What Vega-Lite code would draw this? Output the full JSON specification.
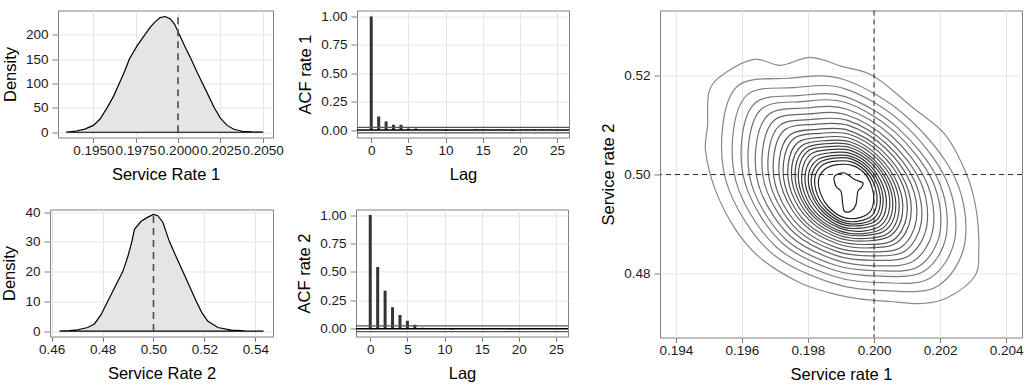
{
"$schema": "https://vega.github.io/schema/vega-lite/v6.json",
"background": "white",
"padding": {"left": 0, "top": 8.5, "right": 0, "bottom": 0},
"datasets": {
"dens1": [
{"rate":0.19343,"density":0.5},{"rate":0.194,"density":2.5},{"rate":0.1945,"density":6.5},{"rate":0.195,"density":14},{"rate":0.1954,"density":27},{"rate":0.19581,"density":50},{"rate":0.1962,"density":74},{"rate":0.19653,"density":100},{"rate":0.19685,"density":125},{"rate":0.19713,"density":150},{"rate":0.1976,"density":178},{"rate":0.19805,"density":200},{"rate":0.19835,"density":215},{"rate":0.19865,"density":226},{"rate":0.19895,"density":235},{"rate":0.19925,"density":237},{"rate":0.19955,"density":232},{"rate":0.1998,"density":221},{"rate":0.20008,"density":200},{"rate":0.2004,"density":176},{"rate":0.20077,"density":150},{"rate":0.2011,"density":125},{"rate":0.20145,"density":100},{"rate":0.2018,"density":75},{"rate":0.20214,"density":50},{"rate":0.2025,"density":29},{"rate":0.2029,"density":14},{"rate":0.2033,"density":6},{"rate":0.2038,"density":2},{"rate":0.2044,"density":0.6},{"rate":0.205,"density":0.2}
],
"dens2": [
{"rate":0.46302,"density":0},{"rate":0.467,"density":0.15},{"rate":0.47023,"density":0.45},{"rate":0.47416,"density":1.2},{"rate":0.47679,"density":2.4},{"rate":0.4794,"density":5.5},{"rate":0.48203,"density":10},{"rate":0.48466,"density":14.5},{"rate":0.48793,"density":20},{"rate":0.4899,"density":25},{"rate":0.49148,"density":30},{"rate":0.49252,"density":34.2},{"rate":0.49515,"density":36.9},{"rate":0.49777,"density":38.3},{"rate":0.5,"density":39.2},{"rate":0.5017,"density":38.8},{"rate":0.50367,"density":36.6},{"rate":0.5063,"density":30},{"rate":0.5089,"density":25},{"rate":0.51154,"density":20},{"rate":0.5142,"density":15},{"rate":0.51679,"density":10},{"rate":0.519,"density":6.2},{"rate":0.52138,"density":3.3},{"rate":0.52531,"density":1.2},{"rate":0.53056,"density":0.3},{"rate":0.536,"density":0.05},{"rate":0.54328,"density":0}
],
"acf1": [
{"lag":0,"acf":1},{"lag":1,"acf":0.12},{"lag":2,"acf":0.076},{"lag":3,"acf":0.047},{"lag":4,"acf":0.047},{"lag":5,"acf":0.015},{"lag":6,"acf":0.015},{"lag":7,"acf":0.003},{"lag":8,"acf":0.002},{"lag":9,"acf":0.004},{"lag":10,"acf":-0.008},{"lag":11,"acf":0.001},{"lag":12,"acf":0.002},{"lag":13,"acf":0.001},{"lag":14,"acf":0.007},{"lag":15,"acf":0.006},{"lag":16,"acf":0.001},{"lag":17,"acf":0.003},{"lag":18,"acf":0.0},{"lag":19,"acf":-0.008},{"lag":20,"acf":0.001},{"lag":21,"acf":0.005},{"lag":22,"acf":0.006},{"lag":23,"acf":0.005},{"lag":24,"acf":0.006},{"lag":25,"acf":0.001}
],
"acf2": [
{"lag":0,"acf":1},{"lag":1,"acf":0.543},{"lag":2,"acf":0.334},{"lag":3,"acf":0.19},{"lag":4,"acf":0.12},{"lag":5,"acf":0.07},{"lag":6,"acf":0.035},{"lag":7,"acf":0.008},{"lag":8,"acf":0.002},{"lag":9,"acf":0.0},{"lag":10,"acf":0.001},{"lag":11,"acf":-0.006},{"lag":12,"acf":0.001},{"lag":13,"acf":0.002},{"lag":14,"acf":0.004},{"lag":15,"acf":0.005},{"lag":16,"acf":0.006},{"lag":17,"acf":0.002},{"lag":18,"acf":0.001},{"lag":19,"acf":-0.004},{"lag":20,"acf":-0.005},{"lag":21,"acf":0.001},{"lag":22,"acf":0.002},{"lag":23,"acf":0.001},{"lag":24,"acf":0.006},{"lag":25,"acf":0.005}
],
"contours": [
{"level":1,"i":0,"rate1":0.20223,"rate2":0.4752},{"level":1,"i":1,"rate1":0.20305,"rate2":0.4795},{"level":1,"i":2,"rate1":0.20317,"rate2":0.4849},{"level":1,"i":3,"rate1":0.20311,"rate2":0.4922},{"level":1,"i":4,"rate1":0.20284,"rate2":0.4994},{"level":1,"i":5,"rate1":0.20217,"rate2":0.5079},{"level":1,"i":6,"rate1":0.20117,"rate2":0.5135},{"level":1,"i":7,"rate1":0.19999,"rate2":0.5198},{"level":1,"i":8,"rate1":0.19902,"rate2":0.5218},{"level":1,"i":9,"rate1":0.19808,"rate2":0.5236},{"level":1,"i":10,"rate1":0.19717,"rate2":0.522},{"level":1,"i":11,"rate1":0.19638,"rate2":0.5232},{"level":1,"i":12,"rate1":0.19548,"rate2":0.5204},{"level":1,"i":13,"rate1":0.19501,"rate2":0.5168},{"level":1,"i":14,"rate1":0.19496,"rate2":0.5099},{"level":1,"i":15,"rate1":0.1949,"rate2":0.5047},{"level":1,"i":16,"rate1":0.1952,"rate2":0.4968},{"level":1,"i":17,"rate1":0.19581,"rate2":0.4889},{"level":1,"i":18,"rate1":0.19657,"rate2":0.4831},{"level":1,"i":19,"rate1":0.19769,"rate2":0.4784},{"level":1,"i":20,"rate1":0.19863,"rate2":0.4762},{"level":1,"i":21,"rate1":0.19951,"rate2":0.475},{"level":1,"i":22,"rate1":0.20048,"rate2":0.4744},{"level":1,"i":23,"rate1":0.20148,"rate2":0.474},
{"level":2,"i":0,"rate1":0.20192,"rate2":0.4775},{"level":2,"i":1,"rate1":0.20275,"rate2":0.4862},{"level":2,"i":2,"rate1":0.20246,"rate2":0.4992},{"level":2,"i":3,"rate1":0.20098,"rate2":0.5117},{"level":2,"i":4,"rate1":0.19906,"rate2":0.5192},{"level":2,"i":5,"rate1":0.1974,"rate2":0.5194},{"level":2,"i":6,"rate1":0.19588,"rate2":0.5179},{"level":2,"i":7,"rate1":0.1954,"rate2":0.5085},{"level":2,"i":8,"rate1":0.19562,"rate2":0.4967},{"level":2,"i":9,"rate1":0.19684,"rate2":0.4845},{"level":2,"i":10,"rate1":0.19869,"rate2":0.4782},{"level":2,"i":11,"rate1":0.20035,"rate2":0.4766},
{"level":3,"i":0,"rate1":0.20169,"rate2":0.4791},{"level":3,"i":1,"rate1":0.20245,"rate2":0.4871},{"level":3,"i":2,"rate1":0.20218,"rate2":0.499},{"level":3,"i":3,"rate1":0.20084,"rate2":0.5105},{"level":3,"i":4,"rate1":0.1991,"rate2":0.5173},{"level":3,"i":5,"rate1":0.19756,"rate2":0.5175},{"level":3,"i":6,"rate1":0.19617,"rate2":0.5161},{"level":3,"i":7,"rate1":0.19572,"rate2":0.5074},{"level":3,"i":8,"rate1":0.19592,"rate2":0.4966},{"level":3,"i":9,"rate1":0.19704,"rate2":0.4854},{"level":3,"i":10,"rate1":0.19873,"rate2":0.4796},{"level":3,"i":11,"rate1":0.20026,"rate2":0.4782},
{"level":4,"i":0,"rate1":0.20151,"rate2":0.4805},{"level":4,"i":1,"rate1":0.20219,"rate2":0.4879},{"level":4,"i":2,"rate1":0.20195,"rate2":0.4988},{"level":4,"i":3,"rate1":0.20072,"rate2":0.5094},{"level":4,"i":4,"rate1":0.19912,"rate2":0.5157},{"level":4,"i":5,"rate1":0.1977,"rate2":0.5159},{"level":4,"i":6,"rate1":0.19642,"rate2":0.5145},{"level":4,"i":7,"rate1":0.19599,"rate2":0.5066},{"level":4,"i":8,"rate1":0.19618,"rate2":0.4966},{"level":4,"i":9,"rate1":0.1972,"rate2":0.4863},{"level":4,"i":10,"rate1":0.19876,"rate2":0.4808},{"level":4,"i":11,"rate1":0.20018,"rate2":0.4795},
{"level":5,"i":0,"rate1":0.20136,"rate2":0.4815},{"level":5,"i":1,"rate1":0.202,"rate2":0.4885},{"level":5,"i":2,"rate1":0.20177,"rate2":0.4987},{"level":5,"i":3,"rate1":0.20063,"rate2":0.5086},{"level":5,"i":4,"rate1":0.19914,"rate2":0.5145},{"level":5,"i":5,"rate1":0.19781,"rate2":0.5147},{"level":5,"i":6,"rate1":0.19661,"rate2":0.5133},{"level":5,"i":7,"rate1":0.1962,"rate2":0.5059},{"level":5,"i":8,"rate1":0.19637,"rate2":0.4965},{"level":5,"i":9,"rate1":0.19733,"rate2":0.4869},{"level":5,"i":10,"rate1":0.19879,"rate2":0.4818},{"level":5,"i":11,"rate1":0.20012,"rate2":0.4806},
{"level":6,"i":0,"rate1":0.20121,"rate2":0.4826},{"level":6,"i":1,"rate1":0.20179,"rate2":0.4892},{"level":6,"i":2,"rate1":0.20158,"rate2":0.4986},{"level":6,"i":3,"rate1":0.20054,"rate2":0.5077},{"level":6,"i":4,"rate1":0.19916,"rate2":0.5132},{"level":6,"i":5,"rate1":0.19792,"rate2":0.5134},{"level":6,"i":6,"rate1":0.19681,"rate2":0.5121},{"level":6,"i":7,"rate1":0.19642,"rate2":0.5052},{"level":6,"i":8,"rate1":0.19658,"rate2":0.4964},{"level":6,"i":9,"rate1":0.19746,"rate2":0.4876},{"level":6,"i":10,"rate1":0.19882,"rate2":0.4828},{"level":6,"i":11,"rate1":0.20006,"rate2":0.4816},
{"level":7,"i":0,"rate1":0.20107,"rate2":0.4837},{"level":7,"i":1,"rate1":0.2016,"rate2":0.4898},{"level":7,"i":2,"rate1":0.20141,"rate2":0.4985},{"level":7,"i":3,"rate1":0.20045,"rate2":0.5069},{"level":7,"i":4,"rate1":0.19918,"rate2":0.512},{"level":7,"i":5,"rate1":0.19802,"rate2":0.5122},{"level":7,"i":6,"rate1":0.19699,"rate2":0.511},{"level":7,"i":7,"rate1":0.19662,"rate2":0.5045},{"level":7,"i":8,"rate1":0.19677,"rate2":0.4964},{"level":7,"i":9,"rate1":0.19759,"rate2":0.4882},{"level":7,"i":10,"rate1":0.19884,"rate2":0.4837},{"level":7,"i":11,"rate1":0.2,"rate2":0.4827},
{"level":8,"i":0,"rate1":0.20094,"rate2":0.4846},{"level":8,"i":1,"rate1":0.20143,"rate2":0.4903},{"level":8,"i":2,"rate1":0.20125,"rate2":0.4984},{"level":8,"i":3,"rate1":0.20037,"rate2":0.5062},{"level":8,"i":4,"rate1":0.1992,"rate2":0.5109},{"level":8,"i":5,"rate1":0.19812,"rate2":0.5111},{"level":8,"i":6,"rate1":0.19715,"rate2":0.5099},{"level":8,"i":7,"rate1":0.1968,"rate2":0.5039},{"level":8,"i":8,"rate1":0.19694,"rate2":0.4964},{"level":8,"i":9,"rate1":0.1977,"rate2":0.4887},{"level":8,"i":10,"rate1":0.19887,"rate2":0.4845},{"level":8,"i":11,"rate1":0.19995,"rate2":0.4836},
{"level":9,"i":0,"rate1":0.20083,"rate2":0.4854},{"level":9,"i":1,"rate1":0.20128,"rate2":0.4908},{"level":9,"i":2,"rate1":0.20111,"rate2":0.4983},{"level":9,"i":3,"rate1":0.2003,"rate2":0.5056},{"level":9,"i":4,"rate1":0.19922,"rate2":0.5099},{"level":9,"i":5,"rate1":0.1982,"rate2":0.5101},{"level":9,"i":6,"rate1":0.1973,"rate2":0.509},{"level":9,"i":7,"rate1":0.19696,"rate2":0.5034},{"level":9,"i":8,"rate1":0.19709,"rate2":0.4963},{"level":9,"i":9,"rate1":0.1978,"rate2":0.4892},{"level":9,"i":10,"rate1":0.19889,"rate2":0.4852},{"level":9,"i":11,"rate1":0.1999,"rate2":0.4844},
{"level":10,"i":0,"rate1":0.2007,"rate2":0.4863},{"level":10,"i":1,"rate1":0.20111,"rate2":0.4913},{"level":10,"i":2,"rate1":0.20096,"rate2":0.4982},{"level":10,"i":3,"rate1":0.20023,"rate2":0.5049},{"level":10,"i":4,"rate1":0.19923,"rate2":0.5089},{"level":10,"i":5,"rate1":0.19829,"rate2":0.5091},{"level":10,"i":6,"rate1":0.19746,"rate2":0.508},{"level":10,"i":7,"rate1":0.19713,"rate2":0.5029},{"level":10,"i":8,"rate1":0.19726,"rate2":0.4963},{"level":10,"i":9,"rate1":0.1979,"rate2":0.4898},{"level":10,"i":10,"rate1":0.19891,"rate2":0.486},{"level":10,"i":11,"rate1":0.19985,"rate2":0.4852},
{"level":11,"i":0,"rate1":0.20061,"rate2":0.4869},{"level":11,"i":1,"rate1":0.20099,"rate2":0.4917},{"level":11,"i":2,"rate1":0.20085,"rate2":0.4982},{"level":11,"i":3,"rate1":0.20017,"rate2":0.5044},{"level":11,"i":4,"rate1":0.19925,"rate2":0.5081},{"level":11,"i":5,"rate1":0.19836,"rate2":0.5083},{"level":11,"i":6,"rate1":0.19758,"rate2":0.5073},{"level":11,"i":7,"rate1":0.19726,"rate2":0.5024},{"level":11,"i":8,"rate1":0.19738,"rate2":0.4962},{"level":11,"i":9,"rate1":0.19798,"rate2":0.4901},{"level":11,"i":10,"rate1":0.19892,"rate2":0.4866},{"level":11,"i":11,"rate1":0.19982,"rate2":0.4859},
{"level":12,"i":0,"rate1":0.20051,"rate2":0.4877},{"level":12,"i":1,"rate1":0.20086,"rate2":0.4921},{"level":12,"i":2,"rate1":0.20072,"rate2":0.4981},{"level":12,"i":3,"rate1":0.20011,"rate2":0.5038},{"level":12,"i":4,"rate1":0.19926,"rate2":0.5073},{"level":12,"i":5,"rate1":0.19843,"rate2":0.5075},{"level":12,"i":6,"rate1":0.1977,"rate2":0.5065},{"level":12,"i":7,"rate1":0.1974,"rate2":0.502},{"level":12,"i":8,"rate1":0.19751,"rate2":0.4962},{"level":12,"i":9,"rate1":0.19807,"rate2":0.4906},{"level":12,"i":10,"rate1":0.19894,"rate2":0.4872},{"level":12,"i":11,"rate1":0.19977,"rate2":0.4866},
{"level":13,"i":0,"rate1":0.20044,"rate2":0.4882},{"level":13,"i":1,"rate1":0.20075,"rate2":0.4924},{"level":13,"i":2,"rate1":0.20063,"rate2":0.498},{"level":13,"i":3,"rate1":0.20006,"rate2":0.5034},{"level":13,"i":4,"rate1":0.19927,"rate2":0.5066},{"level":13,"i":5,"rate1":0.19848,"rate2":0.5068},{"level":13,"i":6,"rate1":0.19781,"rate2":0.5058},{"level":13,"i":7,"rate1":0.19751,"rate2":0.5016},{"level":13,"i":8,"rate1":0.19762,"rate2":0.4962},{"level":13,"i":9,"rate1":0.19814,"rate2":0.4909},{"level":13,"i":10,"rate1":0.19896,"rate2":0.4877},{"level":13,"i":11,"rate1":0.19974,"rate2":0.4871},
{"level":14,"i":0,"rate1":0.20036,"rate2":0.4888},{"level":14,"i":1,"rate1":0.20065,"rate2":0.4927},{"level":14,"i":2,"rate1":0.20053,"rate2":0.498},{"level":14,"i":3,"rate1":0.20001,"rate2":0.5029},{"level":14,"i":4,"rate1":0.19928,"rate2":0.506},{"level":14,"i":5,"rate1":0.19854,"rate2":0.5062},{"level":14,"i":6,"rate1":0.19791,"rate2":0.5052},{"level":14,"i":7,"rate1":0.19762,"rate2":0.5013},{"level":14,"i":8,"rate1":0.19772,"rate2":0.4962},{"level":14,"i":9,"rate1":0.1982,"rate2":0.4913},{"level":14,"i":10,"rate1":0.19897,"rate2":0.4882},{"level":14,"i":11,"rate1":0.19971,"rate2":0.4877},
{"level":15,"i":0,"rate1":0.20029,"rate2":0.4893},{"level":15,"i":1,"rate1":0.20056,"rate2":0.493},{"level":15,"i":2,"rate1":0.20045,"rate2":0.4979},{"level":15,"i":3,"rate1":0.19997,"rate2":0.5026},{"level":15,"i":4,"rate1":0.19929,"rate2":0.5054},{"level":15,"i":5,"rate1":0.19859,"rate2":0.5056},{"level":15,"i":6,"rate1":0.19799,"rate2":0.5047},{"level":15,"i":7,"rate1":0.19772,"rate2":0.501},{"level":15,"i":8,"rate1":0.19781,"rate2":0.4961},{"level":15,"i":9,"rate1":0.19826,"rate2":0.4915},{"level":15,"i":10,"rate1":0.19898,"rate2":0.4886},{"level":15,"i":11,"rate1":0.19968,"rate2":0.4881},
{"level":16,"i":0,"rate1":0.20022,"rate2":0.4898},{"level":16,"i":1,"rate1":0.20047,"rate2":0.4933},{"level":16,"i":2,"rate1":0.20037,"rate2":0.4979},{"level":16,"i":3,"rate1":0.19993,"rate2":0.5022},{"level":16,"i":4,"rate1":0.1993,"rate2":0.5048},{"level":16,"i":5,"rate1":0.19864,"rate2":0.505},{"level":16,"i":6,"rate1":0.19808,"rate2":0.5041},{"level":16,"i":7,"rate1":0.19782,"rate2":0.5006},{"level":16,"i":8,"rate1":0.1979,"rate2":0.4961},{"level":16,"i":9,"rate1":0.19832,"rate2":0.4918},{"level":16,"i":10,"rate1":0.199,"rate2":0.4891},{"level":16,"i":11,"rate1":0.19966,"rate2":0.4886},
{"level":17,"i":0,"rate1":0.20015,"rate2":0.4903},{"level":17,"i":1,"rate1":0.20037,"rate2":0.4936},{"level":17,"i":2,"rate1":0.20027,"rate2":0.4978},{"level":17,"i":3,"rate1":0.19988,"rate2":0.5018},{"level":17,"i":4,"rate1":0.19931,"rate2":0.5042},{"level":17,"i":5,"rate1":0.1987,"rate2":0.5044},{"level":17,"i":6,"rate1":0.19818,"rate2":0.5035},{"level":17,"i":7,"rate1":0.19792,"rate2":0.5003},{"level":17,"i":8,"rate1":0.198,"rate2":0.4961},{"level":17,"i":9,"rate1":0.19839,"rate2":0.4922},{"level":17,"i":10,"rate1":0.19901,"rate2":0.4895},{"level":17,"i":11,"rate1":0.19962,"rate2":0.4892},
{"level":18,"i":0,"rate1":0.20008,"rate2":0.4908},{"level":18,"i":1,"rate1":0.20027,"rate2":0.4939},{"level":18,"i":2,"rate1":0.20019,"rate2":0.4977},{"level":18,"i":3,"rate1":0.19984,"rate2":0.5014},{"level":18,"i":4,"rate1":0.19932,"rate2":0.5036},{"level":18,"i":5,"rate1":0.19875,"rate2":0.5038},{"level":18,"i":6,"rate1":0.19827,"rate2":0.5029},{"level":18,"i":7,"rate1":0.19802,"rate2":0.5},{"level":18,"i":8,"rate1":0.1981,"rate2":0.4961},{"level":18,"i":9,"rate1":0.19845,"rate2":0.4925},{"level":18,"i":10,"rate1":0.19902,"rate2":0.49},{"level":18,"i":11,"rate1":0.1996,"rate2":0.4897},
{"level":19,"i":0,"rate1":0.20002,"rate2":0.4913},{"level":19,"i":1,"rate1":0.20019,"rate2":0.4942},{"level":19,"i":2,"rate1":0.20011,"rate2":0.4977},{"level":19,"i":3,"rate1":0.1998,"rate2":0.501},{"level":19,"i":4,"rate1":0.19933,"rate2":0.5031},{"level":19,"i":5,"rate1":0.19879,"rate2":0.5033},{"level":19,"i":6,"rate1":0.19835,"rate2":0.5024},{"level":19,"i":7,"rate1":0.19811,"rate2":0.4997},{"level":19,"i":8,"rate1":0.19818,"rate2":0.496},{"level":19,"i":9,"rate1":0.1985,"rate2":0.4928},{"level":19,"i":10,"rate1":0.19903,"rate2":0.4904},{"level":19,"i":11,"rate1":0.19957,"rate2":0.4901},
{"level":20,"i":0,"rate1":0.19995,"rate2":0.4918},{"level":20,"i":1,"rate1":0.20009,"rate2":0.4945},{"level":20,"i":2,"rate1":0.20003,"rate2":0.4976},{"level":20,"i":3,"rate1":0.19976,"rate2":0.5006},{"level":20,"i":4,"rate1":0.19934,"rate2":0.5025},{"level":20,"i":5,"rate1":0.19884,"rate2":0.5027},{"level":20,"i":6,"rate1":0.19844,"rate2":0.5019},{"level":20,"i":7,"rate1":0.19821,"rate2":0.4994},{"level":20,"i":8,"rate1":0.19828,"rate2":0.496},{"level":20,"i":9,"rate1":0.19856,"rate2":0.4931},{"level":20,"i":10,"rate1":0.19905,"rate2":0.4908},{"level":20,"i":11,"rate1":0.19954,"rate2":0.4906},
{"level":21,"i":0,"rate1":0.19987,"rate2":0.4924},{"level":21,"i":1,"rate1":0.19999,"rate2":0.4948},{"level":21,"i":2,"rate1":0.19993,"rate2":0.4976},{"level":21,"i":3,"rate1":0.19972,"rate2":0.5002},{"level":21,"i":4,"rate1":0.19936,"rate2":0.5018},{"level":21,"i":5,"rate1":0.1989,"rate2":0.502},{"level":21,"i":6,"rate1":0.19854,"rate2":0.5012},{"level":21,"i":7,"rate1":0.19832,"rate2":0.499},{"level":21,"i":8,"rate1":0.19839,"rate2":0.496},{"level":21,"i":9,"rate1":0.19863,"rate2":0.4934},{"level":21,"i":10,"rate1":0.19905,"rate2":0.4914},{"level":21,"i":11,"rate1":0.19951,"rate2":0.4912},
{"level":22,"i":0,"rate1":0.1988,"rate2":0.4996},{"level":22,"i":1,"rate1":0.1991,"rate2":0.5003},{"level":22,"i":2,"rate1":0.19941,"rate2":0.499},{"level":22,"i":3,"rate1":0.19966,"rate2":0.4983},{"level":22,"i":4,"rate1":0.19961,"rate2":0.4973},{"level":22,"i":5,"rate1":0.19951,"rate2":0.4966},{"level":22,"i":6,"rate1":0.19945,"rate2":0.4939},{"level":22,"i":7,"rate1":0.1993,"rate2":0.4926},{"level":22,"i":8,"rate1":0.1991,"rate2":0.4926},{"level":22,"i":9,"rate1":0.19905,"rate2":0.4942},{"level":22,"i":10,"rate1":0.199,"rate2":0.4966},{"level":22,"i":11,"rate1":0.19885,"rate2":0.4976}
]
},
"spacing": 29,
"hconcat": [
{
"spacing": 21,
"vconcat": [
{
"spacing": 0,
"hconcat": [
{"width": 1, "height": 1, "view": {"stroke": null}, "data": {"values": [{"s": 0}]}, "mark": {"type": "point", "size": 0, "strokeWidth": 0, "opacity": 0}, "encoding": {}},
{
"spacing": 13,
"hconcat": [
{
"width": 215, "height": 127,
"layer": [
{"data": {"name": "dens1"}, "mark": {"type": "area", "fill": "#e5e5e5", "stroke": "#000000", "strokeWidth": 1.2, "clip": true},
 "encoding": {
  "x": {"field": "rate", "type": "quantitative", "scale": {"domain": [0.192916, 0.205608], "nice": false, "zero": false}, "axis": {"values": [0.195, 0.1975, 0.2, 0.2025, 0.205], "tickCount": 20, "format": ".4f", "title": "Service Rate 1"}},
  "y": {"field": "density", "type": "quantitative", "stack": null, "scale": {"domain": [-10.8, 249.4], "nice": false, "zero": false}, "axis": {"values": [0, 50, 100, 150, 200], "tickCount": 20, "title": "Density"}},
  "y2": {"datum": 0}}},
{"data": {"values": [{"rate": 0.2, "density": 0, "top": 240}]}, "mark": {"type": "rule", "stroke": "#4d4d4d", "strokeWidth": 1.6, "strokeDash": [7, 5]},
 "encoding": {
  "x": {"field": "rate", "type": "quantitative", "axis": {"values": [0.195, 0.1975, 0.2, 0.2025, 0.205], "tickCount": 20, "format": ".4f", "title": "Service Rate 1"}},
  "y": {"field": "density", "type": "quantitative", "axis": {"values": [0, 50, 100, 150, 200], "tickCount": 20, "title": "Density"}},
  "y2": {"field": "top"}}}
]
},
{
"width": 212, "height": 127,
"layer": [
{"data": {"name": "acf1"}, "mark": {"type": "bar", "color": "#333333", "width": 3, "clip": true},
 "encoding": {
  "x": {"field": "lag", "type": "quantitative", "scale": {"domain": [-1.244, 25.94], "nice": false, "zero": false}, "axis": {"values": [0, 5, 10, 15, 20, 25], "tickCount": 20, "title": "Lag"}},
  "y": {"field": "acf", "type": "quantitative", "scale": {"domain": [-0.065, 1.053], "nice": false, "zero": false}, "axis": {"values": [0, 0.25, 0.5, 0.75, 1], "tickCount": 20, "format": ".2f", "title": "ACF rate 1"}},
  "y2": {"datum": 0}}},
{"data": {"values": [{"acf": 0.025}, {"acf": -0.025}]}, "mark": {"type": "rule", "stroke": "#555555", "strokeWidth": 1.2},
 "encoding": {"y": {"field": "acf", "type": "quantitative", "axis": {"values": [0, 0.25, 0.5, 0.75, 1], "tickCount": 20, "format": ".2f", "title": "ACF rate 1"}}}},
{"data": {"values": [{"acf": 0}]}, "mark": {"type": "rule", "stroke": "#000000", "strokeWidth": 1.5},
 "encoding": {"y": {"field": "acf", "type": "quantitative", "axis": {"values": [0, 0.25, 0.5, 0.75, 1], "tickCount": 20, "format": ".2f", "title": "ACF rate 1"}}}}
]
}
]
}
]
},
{
"spacing": 0,
"hconcat": [
{"width": 1, "height": 1, "view": {"stroke": null}, "data": {"values": [{"s": 0}]}, "mark": {"type": "point", "size": 0, "strokeWidth": 0, "opacity": 0}, "encoding": {}},
{
"spacing": 22,
"hconcat": [
{
"width": 223, "height": 127,
"layer": [
{"data": {"name": "dens2"}, "mark": {"type": "area", "fill": "#e5e5e5", "stroke": "#000000", "strokeWidth": 1.2, "clip": true},
 "encoding": {
  "x": {"field": "rate", "type": "quantitative", "scale": {"domain": [0.45934, 0.54696], "nice": false, "zero": false}, "axis": {"values": [0.46, 0.48, 0.5, 0.52, 0.54], "tickCount": 20, "format": ".2f", "title": "Service Rate 2"}},
  "y": {"field": "density", "type": "quantitative", "stack": null, "scale": {"domain": [-1.82, 40.87], "nice": false, "zero": false}, "axis": {"values": [0, 10, 20, 30, 40], "tickCount": 20, "title": "Density"}},
  "y2": {"datum": 0}}},
{"data": {"values": [{"rate": 0.5, "density": 0, "top": 39.4}]}, "mark": {"type": "rule", "stroke": "#4d4d4d", "strokeWidth": 1.6, "strokeDash": [7, 5]},
 "encoding": {
  "x": {"field": "rate", "type": "quantitative", "axis": {"values": [0.46, 0.48, 0.5, 0.52, 0.54], "tickCount": 20, "format": ".2f", "title": "Service Rate 2"}},
  "y": {"field": "density", "type": "quantitative", "axis": {"values": [0, 10, 20, 30, 40], "tickCount": 20, "title": "Density"}},
  "y2": {"field": "top"}}}
]
},
{
"width": 212, "height": 127,
"layer": [
{"data": {"name": "acf2"}, "mark": {"type": "bar", "color": "#333333", "width": 3, "clip": true},
 "encoding": {
  "x": {"field": "lag", "type": "quantitative", "scale": {"domain": [-1.244, 25.94], "nice": false, "zero": false}, "axis": {"values": [0, 5, 10, 15, 20, 25], "tickCount": 20, "title": "Lag"}},
  "y": {"field": "acf", "type": "quantitative", "scale": {"domain": [-0.068, 1.049], "nice": false, "zero": false}, "axis": {"values": [0, 0.25, 0.5, 0.75, 1], "tickCount": 20, "format": ".2f", "title": "ACF rate 2"}},
  "y2": {"datum": 0}}},
{"data": {"values": [{"acf": 0.025}, {"acf": -0.025}]}, "mark": {"type": "rule", "stroke": "#555555", "strokeWidth": 1.2},
 "encoding": {"y": {"field": "acf", "type": "quantitative", "axis": {"values": [0, 0.25, 0.5, 0.75, 1], "tickCount": 20, "format": ".2f", "title": "ACF rate 2"}}}},
{"data": {"values": [{"acf": 0}]}, "mark": {"type": "rule", "stroke": "#000000", "strokeWidth": 1.5},
 "encoding": {"y": {"field": "acf", "type": "quantitative", "axis": {"values": [0, 0.25, 0.5, 0.75, 1], "tickCount": 20, "format": ".2f", "title": "ACF rate 2"}}}}
]
}
]
}
]
}
]
},
{
"width": 362, "height": 327,
"layer": [
{"data": {"name": "contours"}, "mark": {"type": "line", "interpolate": "cardinal-closed", "strokeWidth": 1.2, "clip": true},
 "encoding": {
  "x": {"field": "rate1", "type": "quantitative", "scale": {"domain": [0.19352, 0.20448], "nice": false, "zero": false}, "axis": {"values": [0.194, 0.196, 0.198, 0.2, 0.202, 0.204], "tickCount": 20, "format": ".3f", "title": "Service rate 1"}},
  "y": {"field": "rate2", "type": "quantitative", "scale": {"domain": [0.46715, 0.53305], "nice": false, "zero": false}, "axis": {"values": [0.48, 0.5, 0.52], "tickCount": 20, "format": ".2f", "title": "Service rate 2"}},
  "detail": {"field": "level", "type": "nominal"},
  "order": {"field": "i", "type": "quantitative"},
  "color": {"field": "level", "type": "quantitative", "scale": {"domain": [1, 22], "range": ["#8a8a8a", "#1f1f1f"]}, "legend": null}}},
{"data": {"values": [{"rate1": 0.2}]}, "mark": {"type": "rule", "stroke": "#333333", "strokeWidth": 1.1, "strokeDash": [5, 4]},
 "encoding": {"x": {"field": "rate1", "type": "quantitative", "axis": {"values": [0.194, 0.196, 0.198, 0.2, 0.202, 0.204], "tickCount": 20, "format": ".3f", "title": "Service rate 1"}}}},
{"data": {"values": [{"rate2": 0.5}]}, "mark": {"type": "rule", "stroke": "#333333", "strokeWidth": 1.1, "strokeDash": [5, 4]},
 "encoding": {"y": {"field": "rate2", "type": "quantitative", "axis": {"values": [0.48, 0.5, 0.52], "tickCount": 20, "format": ".2f", "title": "Service rate 2"}}}}
]
}
],
"config": {
 "font": "Liberation Sans",
 "view": {"stroke": "#7f7f7f", "strokeWidth": 1},
 "axis": {"grid": true, "gridColor": "#e5e5e5", "gridWidth": 1, "domain": false, "ticks": true, "tickColor": "#7f7f7f", "tickCount": 20, "labelFont": "Liberation Sans", "labelFontSize": 13.5, "labelColor": "#1a1a1a", "labelFlush": false, "labelOverlap": false, "labelBound": false, "titleFont": "Liberation Sans", "titleFontSize": 16.5, "titleFontWeight": "normal", "titleColor": "#000000"},
 "axisY": {"tickSize": 6, "labelPadding": 4, "titlePadding": 7},
 "axisX": {"tickSize": 5, "labelPadding": 1, "titlePadding": 9}
}
}
